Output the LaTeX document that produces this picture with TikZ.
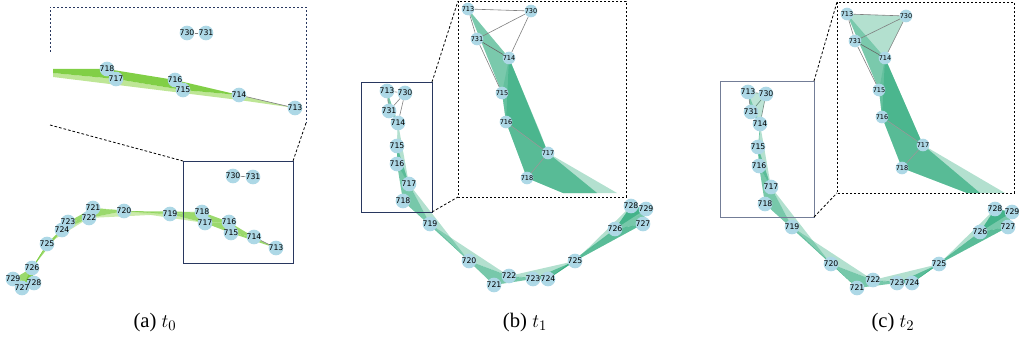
\documentclass[tikz,border=0pt]{standalone}
\usepackage{fontspec}
\setmainfont{Liberation Serif}
\newfontfamily\lblfont{DejaVu Sans}
\usetikzlibrary{backgrounds}
\definecolor{vtxblue}{RGB}{173,216,230}
\definecolor{leaf}{RGB}{122,204,60}
\definecolor{leaflight}{RGB}{190,230,150}
\definecolor{sea}{RGB}{36,166,118}
\definecolor{frame}{RGB}{40,55,95}

\begin{document}
\begin{tikzpicture}[
    x=0.75pt,y=-0.75pt,
    vtx/.style={circle,fill=vtxblue,inner sep=0pt,minimum size=11pt},
    vtxs/.style={vtx,minimum size=9.5pt},
    lbl/.style={inner sep=0pt,font=\lblfont\fontsize{5.8}{6}\selectfont},
    lbls/.style={lbl,font=\lblfont\fontsize{4.9}{5}\selectfont},
    link/.style={draw=gray,line width=0.45pt},
    box/.style={draw=frame,line width=0.7pt},
    zoomframe/.style={draw=black,line width=0.6pt,dash pattern=on 1.6pt off 1.4pt},
    zoomline/.style={draw=black,line width=0.6pt,dash pattern=on 2pt off 1.5pt},
    captxt/.style={font=\fontsize{15.5}{18}\selectfont}
]
\useasboundingbox (0,0) rectangle (1019,346);

% ---- (a) t0 ----
\foreach \n/\x/\y in {713/276/248,714/254/237,715/231/233,716/229/222,717/205/223,
    718/202/212,719/170/214,720/124/211,721/93/208,722/89/218,723/68/222,724/62/230,
    725/47/244,726/32/268,727/22/288,728/34/283,729/13/279,730/233/176,731/253/177}
  \node[vtx] (a\n) at (\x,\y) {};
\foreach \n in {713,...,731}
  \node[lbl] (al\n) at (a\n) {\n};

% zoomed part of (a)
\foreach \n/\x/\y in {713/295/108,714/239/95,715/183/90,716/175/80,717/116/79,
    718/107/69,730/187/33,731/206/33}
  \node[vtx] (az\n) at (\x,\y) {};
\foreach \n in {713,714,715,716,717,718,730,731}
  \node[lbl] (azl\n) at (az\n) {\n};

% ---- (b) t1 ----
\foreach \n/\x/\y in {713/387/91,730/405/93,731/389/111,714/398/123,715/397/146,
    716/397/164,717/409/184,718/403/201,719/430/224,720/469/261,721/494/285,
    722/509/276,723/533/279,724/548/279,725/575/261,726/615/229,727/643/224,
    728/631/206,729/646/209}
  \node[vtx] (b\n) at (\x,\y) {};
\foreach \n in {713,...,731}
  \node[lbl] (bl\n) at (b\n) {\n};

\foreach \n/\x/\y in {713/468/9,730/531/11,731/477/39,714/509/58,715/502/93,
    716/506/122,717/548/153,718/527/178}
  \node[vtxs] (bz\n) at (\x,\y) {};
\foreach \n in {713,714,715,716,717,718,730,731}
  \node[lbls] (bzl\n) at (bz\n) {\n};

% ---- (c) t2 ----
\foreach \n/\x/\y in {713/748/92,730/766/94,731/751/112,714/760/124,715/758/147,
    716/759/166,717/771/187,718/765/204,719/792/227,720/831/264,721/857/288,
    722/873/280,723/897/283,724/912/283,725/939/264,726/980/232,727/1008/227,
    728/995/209,729/1012/212}
  \node[vtx] (c\n) at (\x,\y) {};
\foreach \n in {713,...,731}
  \node[lbl] (cl\n) at (c\n) {\n};

\foreach \n/\x/\y in {713/847/14,730/906/16,731/855/41,714/885/58,715/879/90,
    716/882/117,717/923/145,718/902/168}
  \node[vtxs] (cz\n) at (\x,\y) {};
\foreach \n in {713,714,715,716,717,718,730,731}
  \node[lbls] (czl\n) at (cz\n) {\n};

% corners of the boxes and of the clipped bands
\coordinate (azl-1) at (53,69);
\coordinate (azl-2) at (53,73);
\coordinate (azl-3) at (53,77);
\coordinate (azl-4) at (239,100);
\coordinate (bz-r) at (540,132);
\coordinate (bz-b1) at (563,193);
\coordinate (bz-b2) at (597,193);
\coordinate (bz-b3) at (617,193);
\coordinate (cz-r) at (915,127);
\coordinate (cz-b1) at (967,193);
\coordinate (cz-b2) at (980,193);
\coordinate (cz-b3) at (1005,193);

\begin{scope}[on background layer]
  % bands of (a)
  \foreach \p/\q/\r in {717/720/719,719/722/720,722/725/724,725/727/726}
    \fill[leaflight,fill opacity=0.8] (a\p.center) -- (a\q.center) -- (a\r.center) -- cycle;
  \foreach \p/\q/\r in {713/714/715,714/715/716,715/716/717,716/717/718,717/718/719,
      718/719/720,719/720/721,720/721/722,721/722/723,722/723/724,723/724/725,
      724/725/726,725/726/727,726/727/728,727/728/729,726/728/729}
    \fill[leaf,fill opacity=0.75] (a\p.center) -- (a\q.center) -- (a\r.center) -- cycle;
  \fill[leaflight] (azl-2) -- (az717.center) -- (az715.center) -- (az714.center)
    -- (az713.center) -- (azl-4) -- (azl-3) -- cycle;
  \fill[leaf,fill opacity=0.95] (azl-1) -- (az718.center) -- (az716.center) -- (az714.center)
    -- (az715.center) -- (az717.center) -- (azl-2) -- cycle;
  \draw[link] (a730) -- (a731);
  \draw[link] (a714) -- (a713);
  \draw[link] (az730) -- (az731);
  \draw[link] (az714) -- (az713);

  % bands of (b) and (c)
  \foreach \s in {b,c} {
    \foreach \p/\q/\r in {713/714/731,714/715/716,715/716/717,716/717/718,717/718/719,
        718/719/720,719/720/721,720/721/722,721/722/723,722/723/724,723/724/725,
        724/725/726,725/726/727,726/727/728,727/728/729,726/728/729}
      \fill[sea,fill opacity=0.62] (\s\p.center) -- (\s\q.center) -- (\s\r.center) -- cycle;
    \foreach \p/\q/\r in {714/717/716,717/720/719,719/722/720,722/725/724,725/728/726,725/727/726}
      \fill[sea,fill opacity=0.35] (\s\p.center) -- (\s\q.center) -- (\s\r.center) -- cycle;
    \draw[link] (\s713) -- (\s730);
    \draw[link] (\s730) -- (\s731);
    \draw[link] (\s730) -- (\s714);
    \draw[link] (\s731) -- (\s714);
    \draw[link] (\s713) -- (\s731);
  }
  \fill[sea,fill opacity=0.3] (c713.center) -- (c730.center) -- (c714.center) -- cycle;
  \fill[sea,fill opacity=0.35] (cz713.center) -- (cz730.center) -- (cz714.center) -- cycle;
  \foreach \s in {bz,cz} {
    \fill[sea,fill opacity=0.35] (\s713.center) -- (\s714.center) -- (\s-r) -- (\s717.center)
      -- (\s-b3) -- (\s-b1) -- (\s718.center) -- (\s716.center) -- (\s715.center) -- cycle;
    \fill[sea,fill opacity=0.4] (\s713.center) -- (\s714.center) -- (\s717.center)
      -- (\s-b2) -- (\s-b1) -- (\s718.center) -- (\s716.center) -- (\s715.center) -- cycle;
    \fill[sea,fill opacity=0.4] (\s714.center) -- (\s716.center) -- (\s718.center)
      -- (\s-b1) -- (\s-b2) -- (\s717.center) -- cycle;
    \fill[sea,fill opacity=0.25] (\s714.center) -- (\s715.center) -- (\s716.center)
      -- (\s717.center) -- cycle;
    \draw[link] (\s713) -- (\s730);
    \draw[link] (\s730) -- (\s731);
    \draw[link] (\s730) -- (\s714);
    \draw[link,draw=black!60] (\s731) -- (\s714);
    \draw[link] (\s713) -- (\s731);
    \draw[link] (\s731) -- (\s715);
    \draw[link,draw=black!40] (\s716) -- (\s717);
    \draw[link,draw=black!40] (\s717) -- (\s718);
  }
\end{scope}

% boxes and zoom lines
\coordinate (aboxNW) at (183,161);
\coordinate (aboxSE) at (293,263);
\coordinate (aboxNE) at (293,161);
\coordinate (azSW) at (50,125);
\coordinate (azSE) at (306,123);
\draw[box] (aboxNW) rectangle (aboxSE);
\draw[zoomframe,draw=frame] (50,52) -- (50,7) -- (306,7) -- (azSE);
\draw[zoomline] (azSW) -- (aboxNW);
\draw[zoomline] (azSE) -- (aboxNE);

\coordinate (bboxNE) at (432,82);
\coordinate (bboxSE) at (432,212);
\coordinate (bzNW) at (458,1);
\coordinate (bzSW) at (458,197);
\draw[box] (361,82) rectangle (bboxSE);
\draw[zoomframe] (bzNW) rectangle (626,197);
\draw[zoomline] (bboxNE) -- (bzNW);
\draw[zoomline] (bboxSE) -- (bzSW);

\coordinate (cboxNE) at (814,81);
\coordinate (cboxSE) at (814,217);
\coordinate (czNW) at (837,2);
\coordinate (czSW) at (837,193);
\draw[box,draw=frame!65] (720,81) rectangle (cboxSE);
\draw[zoomframe] (czNW) rectangle (1014,193);
\draw[zoomline] (cboxNE) -- (czNW);
\draw[zoomline] (cboxSE) -- (czSW);

% captions
\node[captxt] (capa) at (155,323) {(a) $t_0$};
\node[captxt] (capb) at (525,323) {(b) $t_1$};
\node[captxt] (capc) at (893,323) {(c) $t_2$};
\end{tikzpicture}
\end{document}
